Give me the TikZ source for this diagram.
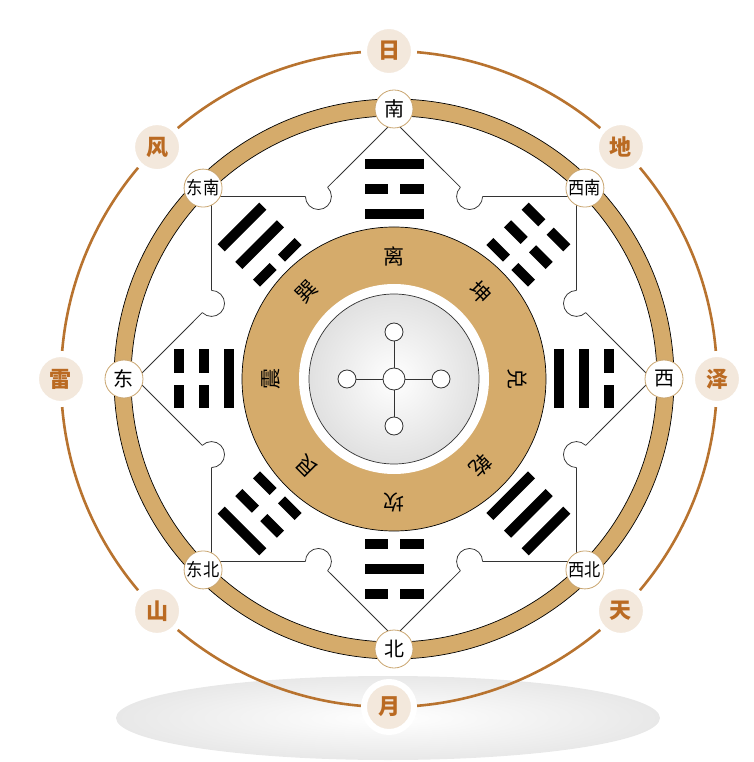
\documentclass[tikz,border=0pt]{standalone}
\usepackage{fontspec}
\setmainfont{Noto Sans CJK SC}
\usepackage{tikz}
\usetikzlibrary{calc}

\definecolor{ringtan}{HTML}{D5AB6B}
\definecolor{copper}{HTML}{B8732F}
\definecolor{labelbrown}{HTML}{BA6A22}
\definecolor{labelbg}{HTML}{F3E8DC}
\definecolor{nodeedge}{HTML}{C9A56F}

\tikzset{
  dirnode/.style={circle, draw=nodeedge, fill=white, line width=0.8pt, minimum size=38pt, inner sep=0pt, font=\fontsize{20}{20}\selectfont},
  outerlabel/.style={circle, fill=labelbg, draw=white, line width=6pt, minimum size=50pt, inner sep=0pt, text=labelbrown, font=\bfseries\fontsize{22}{22}\selectfont},
  gualabel/.style={inner sep=0pt, font=\fontsize{21}{21}\selectfont},
  yao/.style={fill=black},
  starline/.style={draw=black!80, line width=0.75pt},
  smallring/.style={circle, draw=black!80, fill=white, line width=0.8pt, minimum size=18pt, inner sep=0pt},
}

\begin{document}
\begin{tikzpicture}[x=1pt,y=1pt]
      % picture frame
      \useasboundingbox (-394,-383) rectangle (359,379);

      % radii of the rings
      \def\rstar{258}
      \def\rnotch{197.5}
      \def\rnode{270}

      % soft shadow underneath
      \shade[inner color=white, outer color=black!9] (-6,-339) ellipse [x radius=272, y radius=42];

      % outer thin ring with sun, moon and the six others
      \draw[copper, line width=2.6pt] (-5,0) circle (328);
      \foreach \ang/\nm/\txt in {90/ri/日, 45/di/地, 0/ze/泽, -45/tian/天, -90/yue/月, -135/shan/山, 180/lei/雷, 135/feng/风}
        \node[outerlabel] (\nm) at ($(-5,0)+(\ang:328)$) {\txt};

      % thick tan ring
      \draw[fill=ringtan, line width=0.7pt, even odd rule] (0,0) circle (280) circle (263);

      % eight pointed star
      \draw[starline, fill=white] (0:\rstar)
        \foreach \i in {0,...,7} { -- (\i*45+22.5:\rnotch) -- (\i*45+45:\rstar) } -- cycle;

      % round notches at the inner corners
      \foreach \i in {0,...,7} {
        \pgfmathsetmacro\t{\i*45+22.5}
        \fill[white] (\t:\rnotch) circle (13);
        \draw[starline] (\t:\rnotch) ++(\t+67.5:13) arc[start angle=\t+67.5, end angle=\t+292.5, radius=13];
      }

      % inner tan ring and the grey disc
      \draw[fill=ringtan, line width=0.7pt] (0,0) circle (152);
      \fill[white] (0,0) circle (95);
      \shade[inner color=white, outer color=black!12] (0,0) circle (85);
      \draw[black!80, line width=0.7pt] (0,0) circle (85);

      % cross in the middle
      \node[smallring, minimum size=22pt] (mid) at (0,0) {};
      \foreach \ang/\nm in {90/up, 0/rt, -90/dn, 180/lf} {
        \node[smallring] (\nm) at (\ang:47) {};
        \draw[black!80, line width=0.8pt] (mid) -- (\nm);
      }

      % trigrams, inner line first
      \foreach \ang/\a/\b/\c in {90/1/0/1, 45/0/0/0, 0/1/1/0, -45/1/1/1, -90/0/1/0, -135/0/0/1, 180/1/0/0, 135/0/1/1} {
        \begin{scope}[rotate=\ang-90]
          \foreach \k/\s in {0/\a, 1/\b, 2/\c} {
            \pgfmathsetmacro\yy{165+25*\k}
            \ifnum\s=1
              \fill[yao] (-29.5,\yy-5) rectangle (29.5,\yy+5);
            \else
              \fill[yao] (-29.5,\yy-5) rectangle (-6,\yy+5);
              \fill[yao] (6,\yy-5) rectangle (29.5,\yy+5);
            \fi
          }
        \end{scope}
      }

      % trigram names on the inner ring
      \foreach \ang/\nm/\txt in {90/li/离, 45/kun/坤, 0/dui/兑, -45/qian/乾, -90/kan/坎, -135/gen/艮, 180/zhen/震, 135/xun/巽}
        \node[gualabel, rotate=\ang-90] (\nm) at (\ang:123) {\txt};

      % the eight directions
      \foreach \ang/\nm/\txt in {90/nan/南, 0/xi/西, -90/bei/北, 180/dong/东}
        \node[dirnode] (\nm) at (\ang:\rnode) {\txt};
      \foreach \ang/\nm/\txt in {135/dongnan/东南, 45/xinan/西南, -45/xibei/西北, -135/dongbei/东北}
        \node[dirnode] (\nm) at (\ang:\rnode) {\fontsize{18}{18}\selectfont\scalebox{0.9}[1]{\txt}};
\end{tikzpicture}
\end{document}
